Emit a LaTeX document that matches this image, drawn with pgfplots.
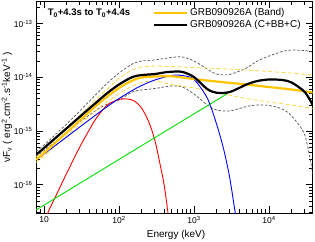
\documentclass[border=0pt]{standalone}
\usepackage{fontspec}
\setmainfont{Liberation Sans}
\usepackage{pgfplots}
\pgfplotsset{compat=1.18}
\definecolor{bandyel}{RGB}{255,196,0}
\definecolor{bandyeldash}{RGB}{255,214,70}
\definecolor{graydash}{RGB}{80,80,80}
\definecolor{cgreen}{RGB}{0,225,0}
\begin{document}
\begin{tikzpicture}
\begin{axis}[
 at={(0pt,0pt)}, anchor=south west,
 scale only axis, width=276.7pt, height=211.5pt,
 xmode=log, ymode=log,
 xmin=7.82, xmax=38280, ymin=2.97e-17, ymax=2.58e-13,
 xtick={10,100,1000,10000},
 xticklabels={10,10\textsuperscript{2},10\textsuperscript{3},10\textsuperscript{4}},
 minor xtick={8,9,20,30,40,50,60,70,80,90,200,300,400,500,600,700,800,900,2000,3000,4000,5000,6000,7000,8000,9000,20000,30000},
 ytick={1e-16,1e-15,1e-14,1e-13},
 yticklabels={10\textsuperscript{-16},10\textsuperscript{-15},10\textsuperscript{-14},10\textsuperscript{-13}},
 minor ytick={3e-17,4e-17,5e-17,6e-17,7e-17,8e-17,9e-17,2e-16,3e-16,4e-16,5e-16,6e-16,7e-16,8e-16,9e-16,2e-15,3e-15,4e-15,5e-15,6e-15,7e-15,8e-15,9e-15,2e-14,3e-14,4e-14,5e-14,6e-14,7e-14,8e-14,9e-14,2e-13},
 tick align=inside,
 major tick length=7pt, minor tick length=4pt,
 every tick/.style={black, line width=0.7pt},
 axis line style={line width=0.9pt},
 tick label style={font=\fontsize{8.5}{10}\selectfont},
 label style={font=\fontsize{10}{12}\selectfont},
 xlabel={Energy (keV)},
 ylabel={νF\textsubscript{ν} ( erg\textsuperscript{2}.cm\textsuperscript{-2}.s\textsuperscript{-1}keV\textsuperscript{-1} )},
 every axis x label/.style={at={(axis description cs:0.506,-0.104)},anchor=center},
 every axis y label/.style={at={(axis description cs:-0.105,0.5)},rotate=90,anchor=center},
 legend style={at={(axis description cs:0.412,0.985)}, anchor=north west, draw=none, fill=none,
   font=\fontsize{10}{12}\selectfont, row sep=0pt, nodes={inner sep=1.6pt}},
 legend cell align=left,
 legend image code/.code={\draw[#1] (0pt,0pt) -- (33pt,0pt);},
]
% gray dashed (C+BB+C error)
\addplot[graydash, line width=0.7pt, dash pattern=on 2.5pt off 1.8pt, smooth, forget plot] coordinates {
(7.82,4.2e-16) (10,5.48e-16) (20,1.35e-15) (30,2.36e-15) (50,4.89e-15) (70,7.83e-15) (100,1.20e-14) (150,1.77e-14) (200,2.01e-14) (300,2.10e-14) (500,2.34e-14) (700,2.39e-14) (1000,2.01e-14) (1500,1.43e-14) (2000,1.15e-14) (3000,1.13e-14) (5000,1.49e-14) (7000,2.01e-14) (10000,2.49e-14) (15000,3.02e-14) (20000,3.22e-14) (30000,3.15e-14) (38280,2.96e-14)};
\addplot[graydash, line width=0.7pt, dash pattern=on 2.5pt off 1.8pt, smooth, forget plot] coordinates {
(7.82,3.35e-16) (10,4.34e-16) (20,9.18e-16) (30,1.47e-15) (50,2.46e-15) (70,3.18e-15) (100,3.78e-15) (150,5.32e-15) (200,5.80e-15) (300,6.18e-15) (500,6.89e-15) (700,6.59e-15) (1000,4.89e-15) (1500,3.05e-15) (2000,2.46e-15) (3000,2.36e-15) (5000,2.86e-15) (7000,3.05e-15) (10000,2.99e-15) (15000,2.57e-15) (20000,1.90e-15) (30000,8.41e-16) (38280,1.6e-16)};
% yellow dashed (Band error)
\addplot[bandyeldash, line width=0.8pt, dash pattern=on 4pt off 2.5pt, smooth, forget plot] coordinates {
(7.82,3.35e-16) (10,4.43e-16) (20,1.14e-15) (30,1.95e-15) (50,3.94e-15) (70,6.05e-15) (100,9.5e-15) (150,1.37e-14) (200,1.56e-14) (300,1.62e-14) (500,1.59e-14) (1000,1.52e-14) (2000,1.46e-14) (5000,1.37e-14) (10000,1.28e-14) (20000,1.20e-14) (38280,1.10e-14)};
\addplot[bandyeldash, line width=0.8pt, dash pattern=on 4pt off 2.5pt, smooth, forget plot] coordinates {
(7.82,2.6e-16) (10,3.42e-16) (20,8.07e-16) (30,1.32e-15) (50,2.46e-15) (70,3.54e-15) (100,4.89e-15) (150,6.89e-15) (200,8.0e-15) (300,8.53e-15) (500,7.35e-15) (1000,6.32e-15) (2000,5.21e-15) (5000,4.03e-15) (10000,3.47e-15) (20000,3.05e-15) (38280,2.62e-15)};
% components
\addplot[red, line width=0.9pt, smooth, forget plot] coordinates {
(11,2.73e-17) (12,3.68e-17) (15,7.0e-17) (20,1.62e-16) (30,5.04e-16) (40,1.04e-15) (50,1.75e-15) (70,3.05e-15) (100,3.87e-15) (130,3.94e-15) (160,3.62e-15) (200,2.68e-15) (250,1.47e-15) (300,6.79e-16) (350,2.54e-16) (400,9.9e-17) (450,2.97e-17)};
\addplot[cgreen, line width=0.9pt, forget plot] coordinates {
(7.82,3.38e-17) (100,2.96e-16) (2800,4.99e-15)};
\addplot[blue, line width=0.9pt, smooth, forget plot] coordinates {
(7.82,2.9e-16) (10,3.73e-16) (20,7.73e-16) (30,1.19e-15) (50,2.03e-15) (70,2.86e-15) (100,4.03e-15) (150,5.68e-15) (200,7.03e-15) (300,8.91e-15) (500,1.08e-14) (700,1.08e-14) (1000,9.1e-15) (1500,4.12e-15) (2000,1.35e-15) (2500,4.43e-16) (3000,1.33e-16) (3500,3.38e-17) (3600,2.73e-17)};
% Band
\addplot[bandyel, line width=2.2pt, smooth] coordinates {
(7.82,2.95e-16) (10,3.89e-16) (15,6.52e-16) (20,9.37e-16) (30,1.57e-15) (50,2.99e-15) (70,4.39e-15) (100,6.32e-15) (150,8.71e-15) (200,9.91e-15) (300,1.035e-14) (500,1.044e-14) (700,9.91e-15) (1000,9.29e-15) (2000,8.35e-15) (5000,7.35e-15) (10000,6.59e-15) (20000,5.93e-15) (38280,5.21e-15)};
\addlegendentry{GRB090926A (Band)}
% C+BB+C
\addplot[black, line width=2.2pt, smooth] coordinates {
(7.82,3.6e-16) (10,4.82e-16) (15,7.91e-16) (20,1.12e-15) (30,1.84e-15) (50,3.42e-15) (70,5.1e-15) (100,7.35e-15) (150,1.01e-14) (200,1.10e-14) (300,1.15e-14) (400,1.23e-14) (500,1.27e-14) (700,1.26e-14) (1000,1.01e-14) (1500,6.05e-15) (2000,5.16e-15) (3000,5.32e-15) (5000,7.35e-15) (7000,8.53e-15) (10000,9.1e-15) (15000,8.91e-15) (20000,8.0e-15) (30000,5.32e-15) (38280,3.05e-15)};
\addlegendentry{GRB090926A (C+BB+C)}
\node[anchor=west, font=\fontsize{9.5}{11}\selectfont\bfseries] at (axis description cs:0.03,0.945) {T\textsubscript{0}+4.3s to T\textsubscript{0}+4.4s};
\end{axis}
\pgfresetboundingbox
\path (-36pt,-28pt) rectangle (279pt,213pt);
\end{tikzpicture}
\end{document}
